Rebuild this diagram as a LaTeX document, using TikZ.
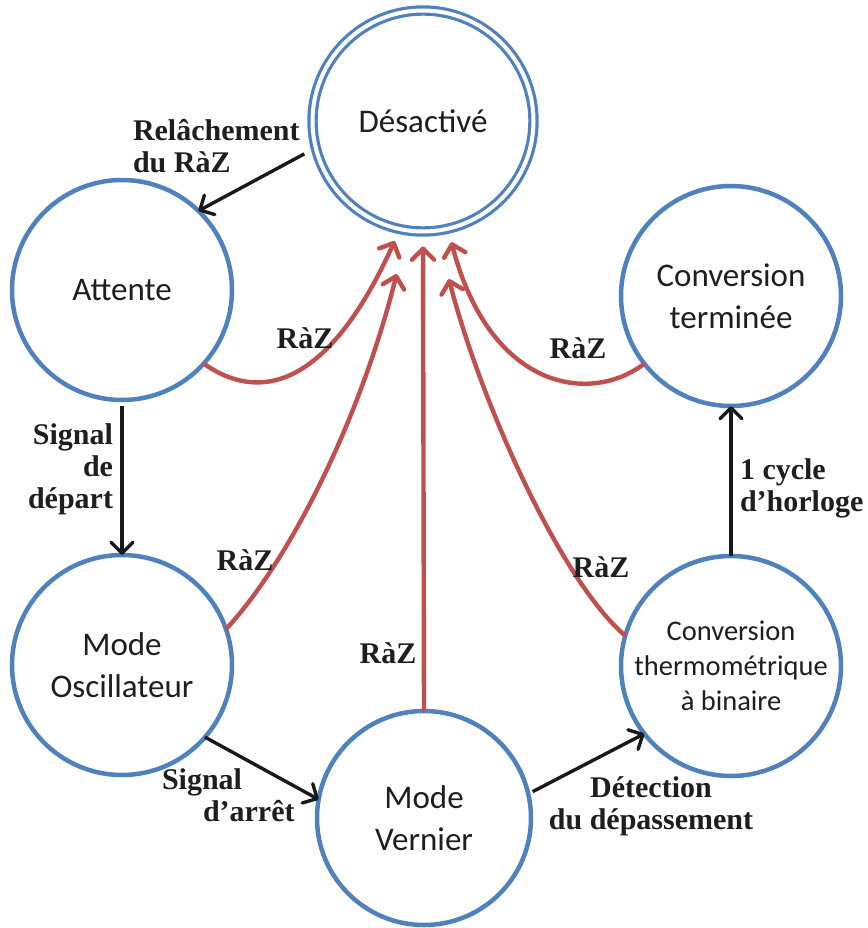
\documentclass[tikz,border=0pt]{standalone}
\usepackage{fontspec}
\setmainfont{Liberation Serif}
\newfontfamily\statefont{Carlito}
\usetikzlibrary{arrows.meta}

\definecolor{stateblue}{RGB}{79,129,189}
\definecolor{resetred}{RGB}{192,80,77}
\definecolor{inktext}{RGB}{30,30,30}

\tikzset{
  state/.style={circle, draw=stateblue, line width=4.5pt, minimum size=220pt,
    inner sep=0pt, outer sep=0pt, align=center, text=inktext,
    font=\statefont\fontsize{33}{42}\selectfont},
  idlestate/.style={state, line width=3.2pt, double=white, double distance=4pt,
    minimum size=221pt},
  smallstate/.style={state, font=\statefont\fontsize{28.5}{35}\selectfont},
  barb/.tip={Straight Barb[length=11pt, width=22pt, line cap=round, line join=round]},
  trans/.style={draw=black!90, line width=3.4pt, -barb},
  reset/.style={draw=resetred, line width=4.4pt, -barb},
  lbl/.style={inner sep=0pt, outer sep=0pt, text=inktext,
    font=\bfseries\fontsize{30}{32}\selectfont},
}

\begin{document}
\begin{tikzpicture}[x=1pt, y=-1pt]
  \useasboundingbox (0,0) rectangle (867,928);

  % states
  \node[idlestate]  (des) at (423,121) {Désactivé};
  \node[state]      (att) at (122,290) {Attente};
  \node[state]      (cte) at (731,296) {Conversion\\terminée};
  \node[state]      (osc) at (122,665) {Mode\\Oscillateur};
  \node[smallstate] (cth) at (731,666) {Conversion\\thermométrique\\à binaire};
  \node[state, minimum size=214pt] (ver) at (424,818) {Mode\\Vernier};

  % normal sequence
  \draw[trans, shorten <=13pt] (des.-166) -- (att.46);
  \draw[trans, shorten <=6pt] (att.south) -- (osc.north);
  \draw[trans] (osc.-41) -- (ver.170);
  \draw[trans, shorten <=5pt] (ver.13) -- (cth.-142);
  \draw[trans] (cth.north) -- (cte.south);

  % reset transitions back to the idle state
  \draw[reset, shorten >=13pt] (att.-42) .. controls (255,400) and (325,395) .. (des.-102);
  \draw[reset, shorten >=45pt] (osc.19) .. controls (290,560) and (360,420) .. (des.-98);
  \draw[reset, shorten >=15pt] (ver.north) -- (des.-90);
  \draw[reset, shorten >=50pt] (cth.164) .. controls (560,580) and (480,400) .. (des.-83);
  \draw[reset, shorten >=14pt] (cte.-142) .. controls (590,405) and (490,390) .. (des.-77);

  % transition labels
  \node[lbl, anchor=north west, align=left]  (l1) at (133,119) {Relâchement\\du RàZ};
  \node[lbl, anchor=north east, align=right] (l2) at (113,424) {Signal\\de\\départ};
  \node[lbl, anchor=north west, align=left]  (l3) at (162,769) {Signal\\\hspace*{41pt}d’arrêt};
  \node[lbl, anchor=north, align=center]     (l4) at (651,777) {Détection\\du dépassement};
  \node[lbl, anchor=north west, align=left]  (l5) at (740,459) {1 cycle\\d’horloge};

  \node[lbl, anchor=base] (r1) at (305,348) {RàZ};
  \node[lbl, anchor=base] (r2) at (245,570) {RàZ};
  \node[lbl, anchor=base] (r3) at (388,663) {RàZ};
  \node[lbl, anchor=base] (r4) at (601,577) {RàZ};
  \node[lbl, anchor=base] (r5) at (578,358) {RàZ};
\end{tikzpicture}
\end{document}
